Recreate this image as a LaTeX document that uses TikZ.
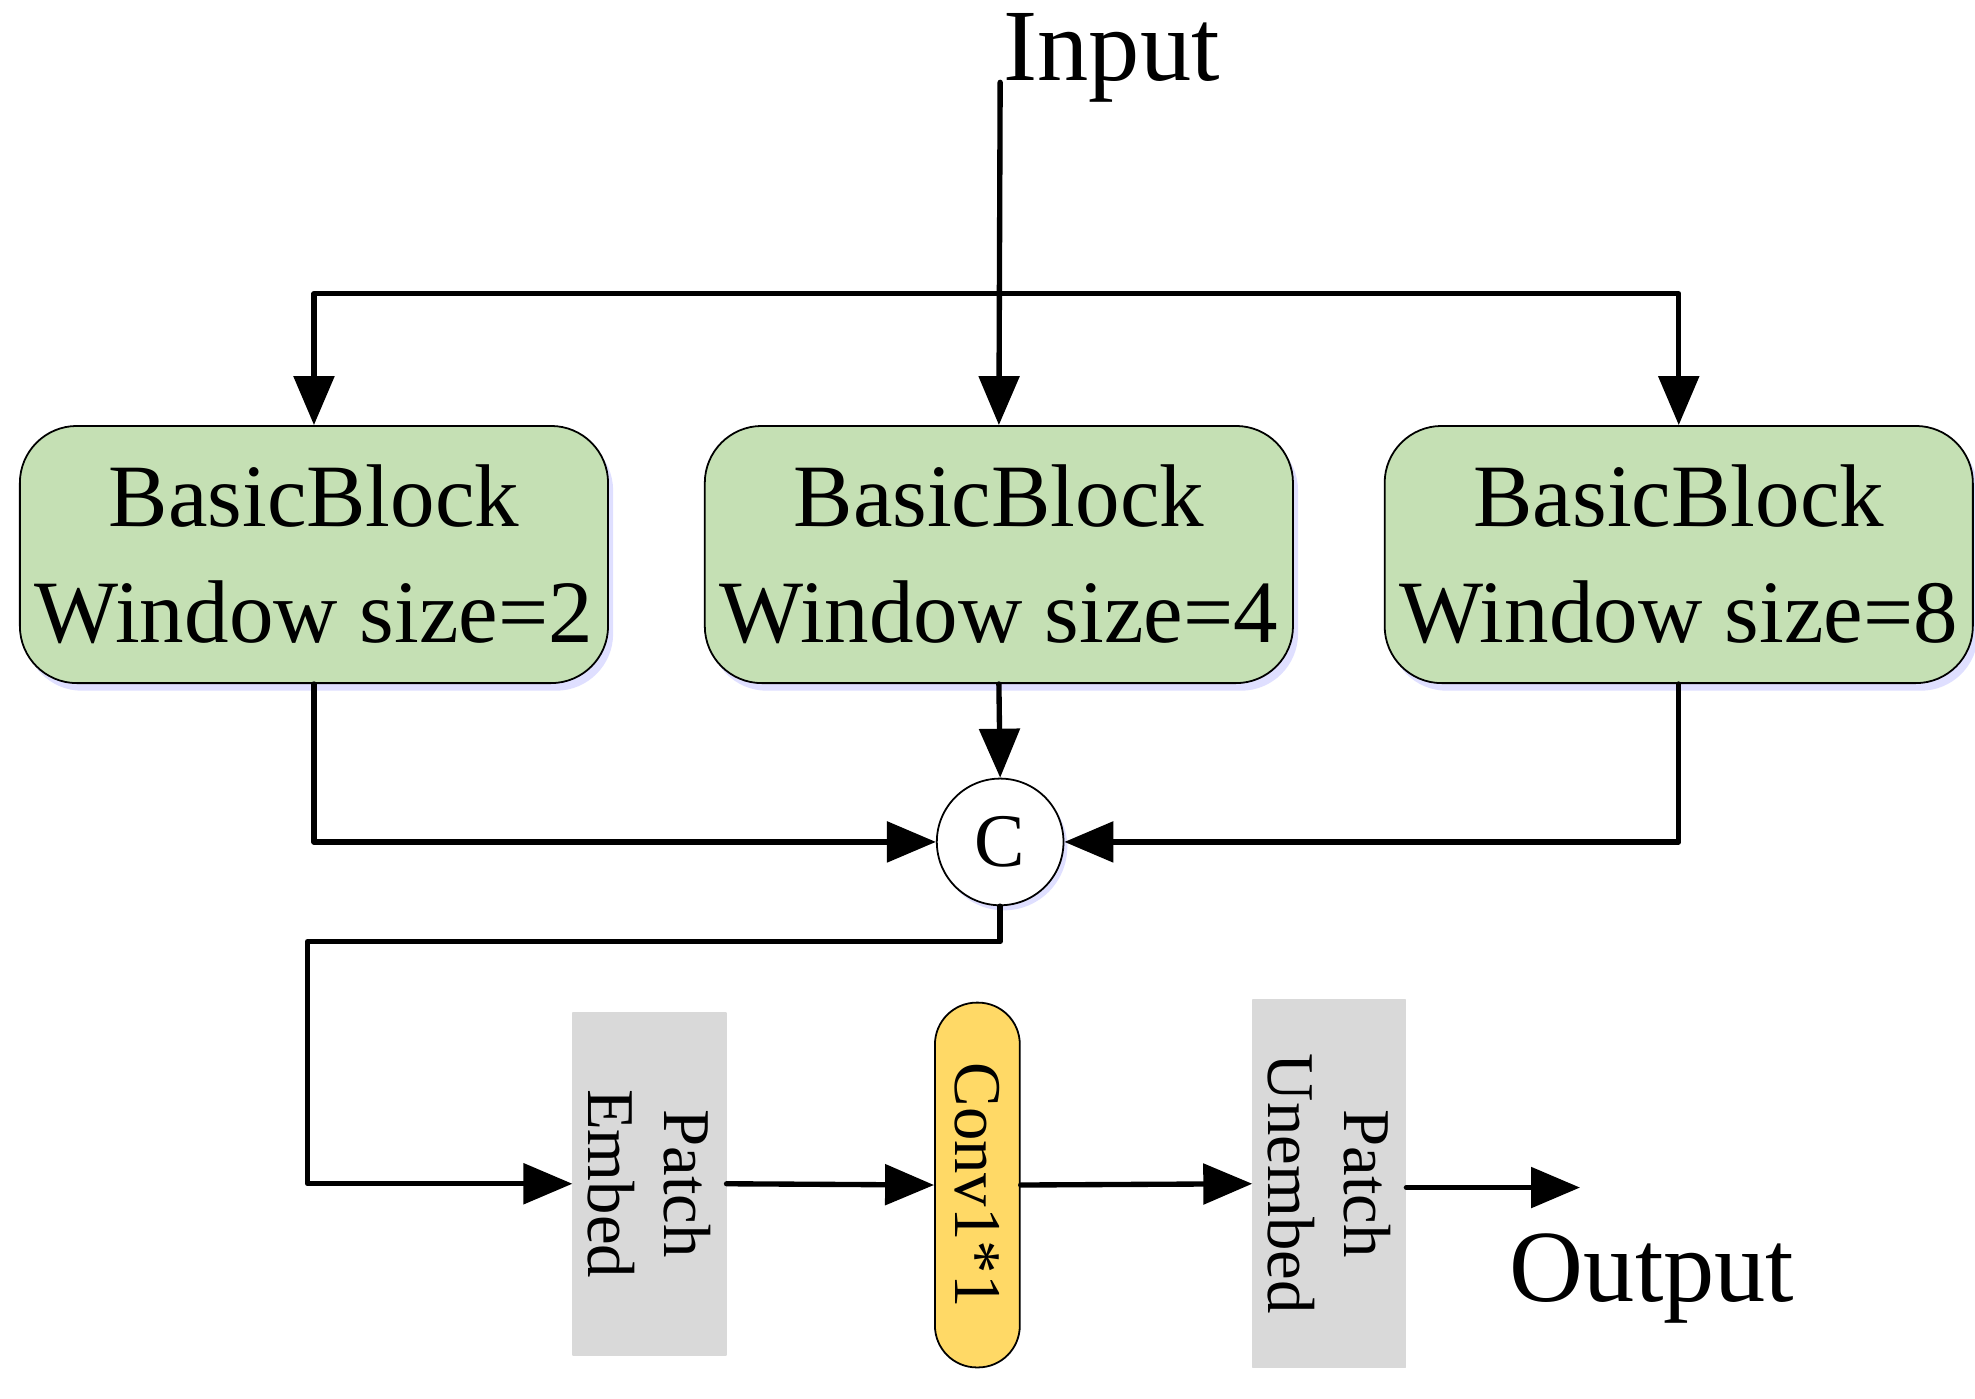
\documentclass[tikz,border=0pt]{standalone}
\usepackage{fontspec}
\setmainfont{Liberation Serif}
\usetikzlibrary{arrows.meta, calc, shadows}
\definecolor{blockgreen}{HTML}{C5E0B4}
\definecolor{convyellow}{HTML}{FFD966}
\definecolor{patchgray}{HTML}{D9D9D9}
\tikzset{
    arr/.style={line width=1.2pt,-{Triangle[length=11pt,width=9pt]}},
    block/.style={draw=black,fill=blockgreen,rounded corners=0.45cm,minimum width=4.4cm,minimum height=2.03cm,align=center,font=\fontsize{20}{26}\selectfont,drop shadow={shadow xshift=0.04cm,shadow yshift=-0.06cm,fill=blue!25,opacity=0.5}},
    patch/.style={draw=gray!30,fill=patchgray,minimum width=2.7cm,minimum height=1cm,align=center,rotate=-90,font=\fontsize{15}{17}\selectfont},
}
\begin{document}
\begin{tikzpicture}[line cap=round,line join=round,x=0.01cm,y=-0.01cm]
    \useasboundingbox (0,0) rectangle (1560,1105);

    \node[font=\fontsize{23}{28}\selectfont] (input) at (878,46) {Input};
    \coordinate (top) at (790,65);
    \coordinate (split) at (790,232);

    % three blocks
    \node[block] (b2) at (248,438) {BasicBlock\\Window size=2};
    \node[block] (b4) at (789,438) {BasicBlock\\Window size=4};
    \node[block,minimum width=4.31cm] (b8) at (1326,438) {BasicBlock\\Window size=8};

    \node[circle,draw,fill=white,minimum size=1cm,inner sep=0pt,font=\fontsize{17}{20}\selectfont,drop shadow={shadow xshift=0.03cm,shadow yshift=-0.04cm,fill=blue!25,opacity=0.5}] (cat) at (790,665) {C};

    \node[patch] (embed) at (513,935) {Patch\\Embed};
    \node[draw=black,fill=convyellow,rounded corners=0.33cm,minimum width=2.88cm,minimum height=0.67cm,rotate=-90,font=\fontsize{15}{17}\selectfont] (conv) at (772,936) {Conv1*1};
    \node[patch,minimum width=2.9cm] (unembed) at (1050,935) {Patch\\Unembed};
    \node[font=\fontsize{23}{28}\selectfont] (output) at (1305,1010) {Output};
    \coordinate (out) at (1248,938);

    \draw[arr] (top) -- (b4.north);
    \draw[arr] (split) -| (b2.north);
    \draw[arr] (split) -| (b8.north);

    \draw[arr] (b2.south) |- (cat.west);
    \draw[arr] (b8.south) |- (cat.east);
    \draw[arr] (b4.south) -- (cat.north);

    \draw[arr] (cat.south) -- ++(0,28) -| (243,935) -- (embed.south);
    \draw[arr] (embed.north) -- (conv.south);
    \draw[arr] (conv.north) -- (unembed.south);
    \draw[arr] (unembed.north |- out) -- (out);
\end{tikzpicture}
\end{document}
